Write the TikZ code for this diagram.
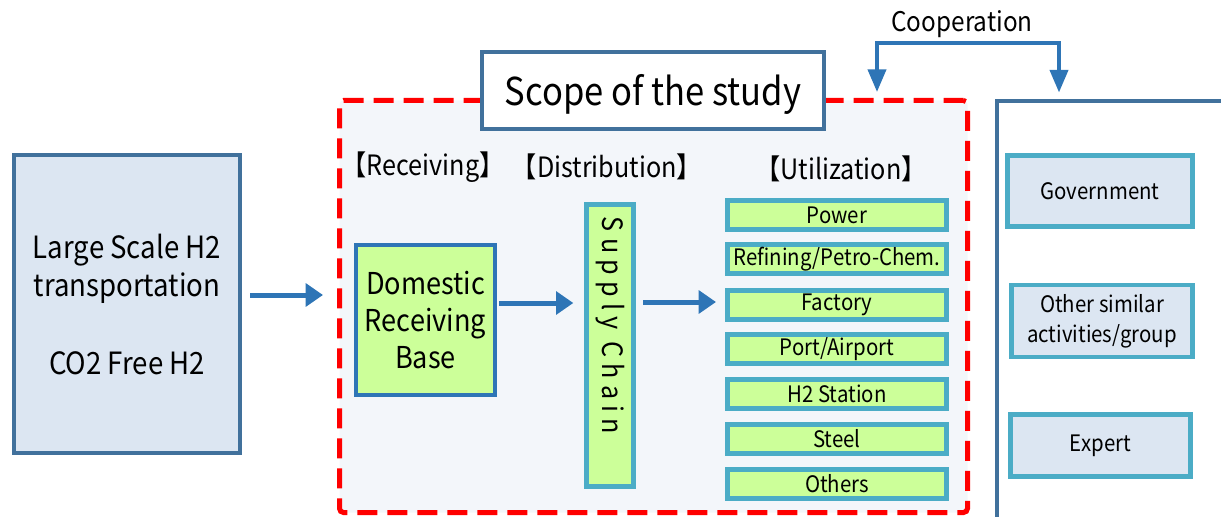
\documentclass[tikz,border=0pt]{standalone}
\usepackage{fontspec}
\setmainfont[FakeStretch=0.9]{Noto Sans CJK JP}
\usetikzlibrary{arrows.meta}

\definecolor{frameblue}{HTML}{41719C}
\definecolor{paleblue}{HTML}{DCE6F2}
\definecolor{arrowblue}{HTML}{2E75B6}
\definecolor{tealline}{HTML}{4BACC6}
\definecolor{limefill}{HTML}{CCFF99}
\definecolor{scopebg}{HTML}{F3F6FA}

\tikzset{
  bigbox/.style={draw=frameblue, line width=3pt, fill=paleblue, align=center, inner sep=0pt},
  flow/.style={draw=arrowblue, line width=3.75pt, -{Triangle[length=13pt,width=17pt]}},
  coopline/.style={draw=arrowblue, line width=3pt,
    {Triangle[length=17pt,width=13.5pt]}-{Triangle[length=17pt,width=13.5pt]}},
  greenbox/.style={draw=tealline, line width=3.75pt, fill=limefill, minimum width=164.25pt,
    minimum height=21.75pt, inner sep=0pt, font=\fontsize{17}{20}\selectfont},
  partybox/.style={draw=tealline, line width=3.5pt, fill=paleblue, align=center, inner sep=0pt,
    font=\fontsize{17}{22.5}\selectfont},
  heading/.style={font=\fontsize{21}{24}\selectfont},
}

\begin{document}
\begin{tikzpicture}[x=0.75pt, y=-0.75pt]
  \useasboundingbox (0,0) rectangle (1221,517);
  \clip (0,0) rectangle (1221,517);

  % source of hydrogen
  \node[bigbox, minimum width=169.5pt, minimum height=223.5pt, font=\fontsize{23}{29}\selectfont]
    (src) at (127,304) {Large Scale H2\\transportation\\[29pt]CO2 Free H2};

  % scope of the study
  \node[draw=red, fill=scopebg, line width=3.75pt, dash pattern=on 15pt off 7.5pt, rounded corners=3pt,
    minimum width=471pt, minimum height=309pt] (scope) at (653.5,306.5) {};
  \node[draw=frameblue, line width=3pt, fill=white, minimum width=256.5pt, minimum height=57.75pt,
    font=\fontsize{28.8}{30}\selectfont] (title) at (653,90.5)
    {\raisebox{-3pt}[\height][\depth]{Scope of the study}};

  \node[heading] (hrecv) at (423,167) {【Receiving】};
  \node[heading] (hdist) at (607,167) {【Distribution】};
  \node[heading] (huse)  at (841,169) {【Utilization】};

  \node[draw=arrowblue, line width=3pt, fill=limefill, minimum width=104.25pt, minimum height=112.5pt,
    align=center, inner sep=0pt, font=\fontsize{22.6}{28}\selectfont]
    (recv) at (425.5,320) {Domestic\\Receiving\\Base};

  \node[draw=tealline, line width=3.75pt, fill=limefill, minimum width=35.25pt, minimum height=211.5pt]
    (chain) at (610,345.5) {};
  \node[rotate=-90, anchor=west, inner sep=0pt, font=\fontsize{21}{22}\selectfont\addfontfeature{LetterSpace=22}]
    (chainlbl) at ([yshift=-11pt]chain.north) {Supply Chain};

  \node[greenbox] (power)   at (837,215)   {Power};
  \node[greenbox] (refine)  at (837,259)   {Refining/Petro-Chem.};
  \node[greenbox] (factory) at (837,304.5) {Factory};
  \node[greenbox] (port)    at (837,348.7) {Port/Airport};
  \node[greenbox] (station) at (837,394)   {H2 Station};
  \node[greenbox] (steel)   at (837,438.7) {Steel};
  \node[greenbox] (others)  at (837,483.7) {Others};

  \draw[flow, shorten <=6pt, shorten >=10.5pt] (src.east |- 0,295) -- (scope.west |- 0,295);
  \draw[flow, shorten <=1.5pt, shorten >=8pt] (recv.east |- 0,303) -- (chain.west |- 0,303);
  \draw[flow, shorten <=5.25pt, shorten >=6.75pt] (chain.east |- 0,302) -- (factory.west |- 0,302);

  % partners
  \node[draw=frameblue, line width=3pt, fill=white, minimum width=197.25pt, minimum height=344.6pt]
    (partners) at (1128.5,330.25) {};
  \node[partybox, minimum width=138.75pt, minimum height=53.25pt] (gov) at (1100,191) {Government};
  \node[partybox, minimum width=135.75pt, minimum height=54pt] (similar) at (1102,321)
    {Other similar\\activities/group};
  \node[partybox, minimum width=135pt, minimum height=46.5pt] (expert) at (1100.5,445.3) {Expert};

  \node[font=\fontsize{20.3}{22}\selectfont] (coop) at (962,24) {Cooperation};
  \draw[coopline, shorten <=4.5pt, shorten >=4.5pt]
    (scope.north -| 877,0) |- (coop |- 0,43) -| (partners.north -| 1059,0);
\end{tikzpicture}
\end{document}
